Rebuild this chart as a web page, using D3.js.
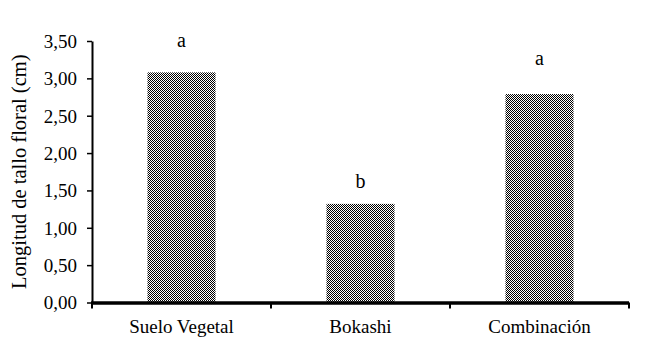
<!DOCTYPE html>
<html>
<head>
<meta charset="utf-8">
<script src="https://cdn.jsdelivr.net/npm/d3@7"></script>
<style>
  html, body { margin: 0; padding: 0; background: #fff; }
</style>
</head>
<body>
<svg id="chart" width="657" height="339"></svg>
<script>
// Tratamientos, longitud media y letras de significancia
const categories = ["Suelo Vegetal", "Bokashi", "Combinación"];
const values = [3.08, 1.32, 2.79];
const letters = ["a", "b", "a"];
// Altura (cm) a la que se ubica cada letra sobre su barra
const letterLevels = [3.42, 1.53, 3.18];
const yTicks = [0, 0.5, 1, 1.5, 2, 2.5, 3, 3.5];
const yLabel = "Longitud de tallo floral (cm)";

const FONT = "'Liberation Serif', 'Times New Roman', Times, 'DejaVu Serif', serif";
const FS = "19px";

const svg = d3.select("#chart");
const margin = { left: 92, top: 41 };
const plotRight = 629;
const plotBottom = 302.5;

const x = d3.scaleBand()
  .domain(categories)
  .range([margin.left, plotRight])
  .paddingInner(0.62)
  .paddingOuter(0.31);

const y = d3.scaleLinear()
  .domain([0, 3.5])
  .range([plotBottom, margin.top]);

// Checkerboard fill for the bars
const defs = svg.append("defs");
const pat = defs.append("pattern")
  .attr("id", "checker")
  .attr("patternUnits", "userSpaceOnUse")
  .attr("width", 2).attr("height", 2);
pat.append("rect").attr("width", 2).attr("height", 2).attr("fill", "#fff");
pat.append("rect").attr("x", 0).attr("y", 0).attr("width", 1).attr("height", 1).attr("fill", "#000");
pat.append("rect").attr("x", 1).attr("y", 1).attr("width", 1).attr("height", 1).attr("fill", "#000");

// Bars
svg.append("g").selectAll("rect")
  .data(values)
  .join("rect")
  .attr("x", (d, i) => x(categories[i]))
  .attr("width", x.bandwidth())
  .attr("y", d => y(d))
  .attr("height", d => plotBottom - y(d))
  .attr("fill", "url(#checker)");

// Significance letters
svg.append("g").selectAll("text")
  .data(letterLevels)
  .join("text")
  .attr("x", (d, i) => x(categories[i]) + x.bandwidth() / 2)
  .attr("y", d => y(d))
  .attr("text-anchor", "middle")
  .style("font-family", FONT)
  .style("font-size", "20px")
  .text((d, i) => letters[i]);

// Y axis
const fmt = d => d3.format(".2f")(d).replace(".", ",");
const yAxis = svg.append("g")
  .attr("transform", `translate(${margin.left},0)`)
  .call(d3.axisLeft(y).tickValues(yTicks).tickFormat(fmt).tickSize(5).tickSizeOuter(0));
yAxis.select(".domain").attr("stroke", "#000").attr("stroke-width", 2);
yAxis.selectAll(".tick line").attr("stroke", "#000").attr("stroke-width", 1.5);
yAxis.selectAll(".tick text")
  .attr("x", -15)
  .attr("dy", "0.34em")
  .attr("fill", "#000")
  .style("font-family", FONT)
  .style("font-size", FS);

// X axis with boundary ticks between categories
const xAxisG = svg.append("g");
xAxisG.append("line")
  .attr("x1", margin.left - 1).attr("x2", plotRight)
  .attr("y1", plotBottom + 0.5).attr("y2", plotBottom + 0.5)
  .attr("stroke", "#000").attr("stroke-width", 3.5);
const step = x.step();
const bounds = d3.range(categories.length + 1).map(i => x.range()[0] + i * step);
xAxisG.selectAll("line.sep")
  .data(bounds)
  .join("line")
  .attr("class", "sep")
  .attr("x1", d => d).attr("x2", d => d)
  .attr("y1", plotBottom).attr("y2", plotBottom + 6)
  .attr("stroke", "#000").attr("stroke-width", 2);
xAxisG.selectAll("text")
  .data(categories)
  .join("text")
  .attr("x", d => x(d) + x.bandwidth() / 2)
  .attr("y", 333)
  .attr("text-anchor", "middle")
  .style("font-family", FONT)
  .style("font-size", FS)
  .text(d => d);

// Y axis title
svg.append("text")
  .attr("transform", `translate(26,${(margin.top + plotBottom) / 2}) rotate(-90)`)
  .attr("text-anchor", "middle")
  .style("font-family", FONT)
  .style("font-size", "20.5px")
  .text(yLabel);
</script>
</body>
</html>
